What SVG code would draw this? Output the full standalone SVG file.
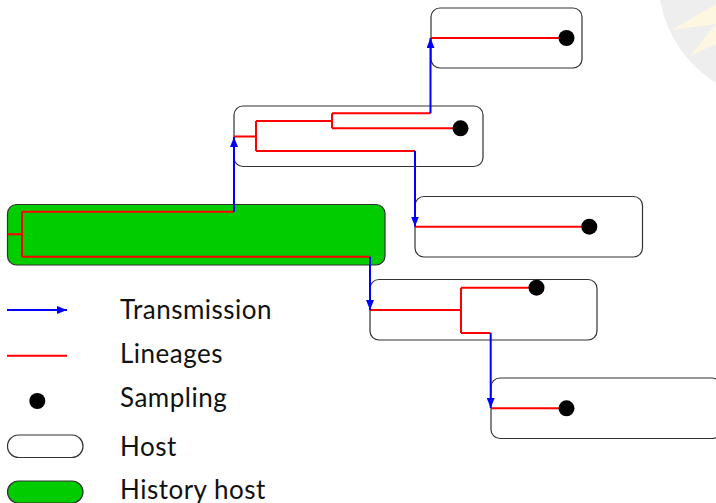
<svg xmlns="http://www.w3.org/2000/svg" width="716" height="503" viewBox="0 0 716 503">
<style>
.host{fill:#ffffff;stroke:#333333;stroke-width:1.2}
.hist{fill:#00cc00;stroke:#333333;stroke-width:1.2}
.lin{fill:none;stroke:#ff0000;stroke-width:2}
.tr{fill:none;stroke:#0000ff;stroke-width:2}
.dot{fill:#000000}
.lbl{font-family:Lato,"Open Sans","Liberation Sans",sans-serif;font-size:26px;letter-spacing:0.5px;fill:#111111}
</style>
<defs>
<marker id="ah" viewBox="0 0 10 8" markerUnits="userSpaceOnUse" markerWidth="10" markerHeight="8" refX="10" refY="4" orient="auto">
<path d="M0,0 L10,4 L0,8 z" fill="#0000ff"/>
</marker>
</defs>
<g id="watermark">
<circle cx="782" cy="-22" r="124" fill="#eeeeee"/>
<polygon points="672,30 716,4 716,24" fill="#fdf7e2"/>
<polygon points="690,56 716,24 716,44" fill="#fdf7e2"/>
</g>
<g id="host-top"><rect class="host" x="431" y="8" width="151" height="60" rx="9"/></g>
<g id="host-2"><rect class="host" x="234" y="106" width="249" height="60.5" rx="9"/></g>
<g id="history-host"><rect class="hist" x="7.5" y="204.5" width="377.5" height="60.5" rx="9"/></g>
<g id="host-3"><rect class="host" x="415" y="196.5" width="227.5" height="60.5" rx="9"/></g>
<g id="host-4"><rect class="host" x="370" y="279.5" width="227" height="60.5" rx="9"/></g>
<g id="host-5"><rect class="host" x="491" y="378" width="230" height="60.5" rx="9"/></g>
<g id="lineages">
<path class="lin" d="M431,38 H566"/>
<path class="lin" d="M234,136.5 H256 M256,121 V151 M256,121 H332 M332,113.3 V128.3 M332,113.3 H430.5 M332,128.3 H460 M256,151 H415"/>
<path class="lin" d="M7.5,234.3 H22 M22,211.7 V256.7 M22,211.7 H234 M22,256.7 H370"/>
<path class="lin" d="M415,226.7 H589"/>
<path class="lin" d="M370,310 H461 M461,287.7 V333 M461,287.7 H536 M461,333 H490.7"/>
<path class="lin" d="M491,408.3 H566"/>
</g>
<g id="connectors">
<path class="tr" d="M234,211.7 V137" marker-end="url(#ah)"/>
<path class="tr" d="M430.5,113.3 V38" marker-end="url(#ah)"/>
<path class="tr" d="M415,151 V226.5" marker-end="url(#ah)"/>
<path class="tr" d="M370,256.7 V310" marker-end="url(#ah)"/>
<path class="tr" d="M490.7,333 V408" marker-end="url(#ah)"/>
</g>
<g id="samples">
<circle class="dot" cx="566.5" cy="38" r="8"/>
<circle class="dot" cx="460.5" cy="128.3" r="8"/>
<circle class="dot" cx="589.3" cy="226.7" r="8"/>
<circle class="dot" cx="536.5" cy="287.7" r="8"/>
<circle class="dot" cx="566.5" cy="408.3" r="8"/>
</g>
<g id="legend">
<path class="tr" d="M7,310 H67" marker-end="url(#ah)"/>
<path class="lin" d="M7,355.7 H67"/>
<circle class="dot" cx="37.3" cy="401" r="8"/>
<rect class="host" x="7.5" y="435" width="75.5" height="22.5" rx="11.2"/>
<rect class="hist" x="7.5" y="481" width="75.5" height="22" rx="11"/>
<text class="lbl" x="120" y="319.3">Transmission</text>
<text class="lbl" x="120" y="362.7">Lineages</text>
<text class="lbl" x="120" y="407.3">Sampling</text>
<text class="lbl" x="120" y="455.7">Host</text>
<text class="lbl" x="120" y="498.5">History host</text>
</g>
</svg>
